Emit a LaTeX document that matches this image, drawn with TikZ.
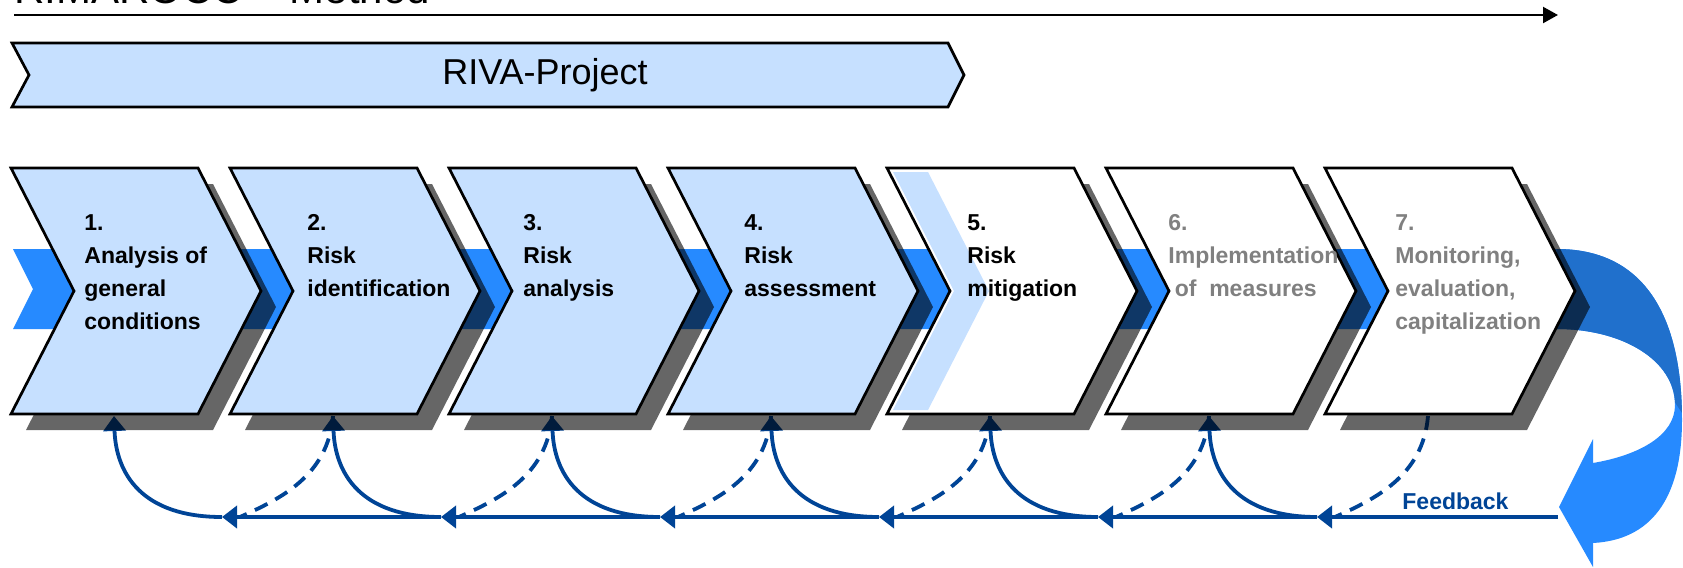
\documentclass[tikz,border=0pt]{standalone}
\usepackage{fontspec}
\setmainfont{Liberation Sans}
\usetikzlibrary{arrows.meta}
\definecolor{chevblue}{RGB}{198,224,255}
\definecolor{bandblue}{RGB}{38,138,255}
\definecolor{banddark}{RGB}{32,112,204}
\definecolor{fbblue}{RGB}{0,68,150}
\definecolor{greytxt}{RGB}{128,128,128}
\begin{document}
\begin{tikzpicture}[x=0.5pt,y=-0.5pt,
chev/.style={draw=black,line width=1.35pt,line join=miter},
dropshadow/.style={fill=black,fill opacity=0.6},
steptext/.style={anchor=base west,inner sep=0pt,align=left,font=\fontsize{11.5}{16.5}\selectfont\bfseries},
fbline/.style={draw=fbblue,line width=1.9pt},
fbtip/.style={-{Triangle[length=7.5pt,width=11pt]}}]
\useasboundingbox (0,0) rectangle (1683,568);

% method arrow and project banner
\node[anchor=base west,inner sep=0pt,font=\fontsize{21}{21}\selectfont] (title) at (14,3.5) {RIMAROCC – Method};
\coordinate (tl) at (14,15);
\coordinate (tr) at (1558,15);
\draw[line width=1.1pt,-{Triangle[length=7.5pt,width=8pt]}] (tl) -- (tr);
\draw[chev,fill=chevblue] (12,43) -- (948,43) -- (964,75) -- (948,107) -- (12,107) -- (29,75) -- cycle;
\node[font=\fontsize{18}{18}\selectfont] (riva) at (545,75) {RIVA-Project};

% blue band with bend
\fill[bandblue] (13,249) -- (1558,249) -- (1558,329) -- (13,329) -- (33,289) -- cycle;
\fill[bandblue] (1557,249) .. controls (1640,249) and (1682,310) .. (1682,420)
  .. controls (1682,500) and (1650,540) .. (1593,543) -- (1593,567) -- (1559,507) -- (1593,439) -- (1593,463)
  .. controls (1640,455) and (1675,435) .. (1675,405) .. controls (1675,360) and (1622,329) .. (1557,329) -- cycle;
\begin{scope}
\clip (1540,230) -- (1700,230) -- (1700,440) -- (1668,392) -- (1540,392) -- cycle;
\fill[banddark] (1557,249) .. controls (1640,249) and (1682,310) .. (1682,420)
  .. controls (1682,500) and (1650,540) .. (1593,543) -- (1593,567) -- (1559,507) -- (1593,439) -- (1593,463)
  .. controls (1640,455) and (1675,435) .. (1675,405) .. controls (1675,360) and (1622,329) .. (1557,329) -- cycle;
\end{scope}

% feedback loops
\foreach \i in {1,...,7} {
  \pgfmathsetmacro\bx{114+219*(\i-1)}
  \coordinate (t\i) at (\bx,416);
}
\foreach \i in {1,...,6} {
  \pgfmathsetmacro\ax{222+219*(\i-1)}
  \coordinate (a\i) at (\ax,517);
  \coordinate (d\i) at (\ax+18,517);
}
\coordinate (fbstart) at (1558,517);
\draw[fbline,fbtip] (fbstart) -- (a6);
\foreach \i/\j in {6/5,5/4,4/3,3/2,2/1}
  \draw[fbline,fbtip] (a\i) -- (a\j);
\foreach \i in {1,...,6}
  \draw[fbline,fbtip] (a\i) .. controls +(-80,0) and +(2,58) .. (t\i);
\foreach \i/\j in {2/1,3/2,4/3,5/4,6/5,7/6}
  \draw[fbline,dash pattern=on 7pt off 4.5pt] (t\i) .. controls +(-5,60) and +(40,-18) .. (d\j);

% steps
\foreach \i in {0,...,6} {
  \pgfmathsetmacro\cx{11+219*\i}
  \fill[dropshadow,shift={(15,16)}] (\cx,168) -- ++(187,0) -- ++(63,123) -- ++(-63,123) -- ++(-187,0) -- ++(63,-123) -- cycle;
}
\foreach \i/\f in {0/chevblue,1/chevblue,2/chevblue,3/chevblue,4/white,5/white,6/white} {
  \pgfmathsetmacro\cx{11+219*\i}
  \draw[chev,fill=\f] (\cx,168) -- ++(187,0) -- ++(63,123) -- ++(-63,123) -- ++(-187,0) -- ++(63,-123) -- cycle;
}
\fill[chevblue] (893,172) -- (928,172) -- (989,291) -- (928,410) -- (893,410) -- (954,291) -- cycle;

% step texts (anchored at the last line)
\node[steptext] (s1) at (84,329) {1.\\Analysis of\\general\\conditions};
\node[steptext] (s2) at (307,296) {2.\\Risk\\identification};
\node[steptext] (s3) at (523,296) {3.\\Risk\\analysis};
\node[steptext] (s4) at (744,296) {4.\\Risk\\assessment};
\node[steptext] (s5) at (967,296) {5.\\Risk\\mitigation};
\node[steptext,text=greytxt] (s6) at (1168,296) {6.\\Implementation\\~of~~measures};
\node[steptext,text=greytxt] (s7) at (1395,329) {7.\\Monitoring,\\evaluation,\\capitalization};
\node[anchor=base west,inner sep=0pt,text=fbblue,font=\fontsize{11.5}{11.5}\selectfont\bfseries] (fblabel) at (1402,509) {Feedback};
\end{tikzpicture}
\end{document}
